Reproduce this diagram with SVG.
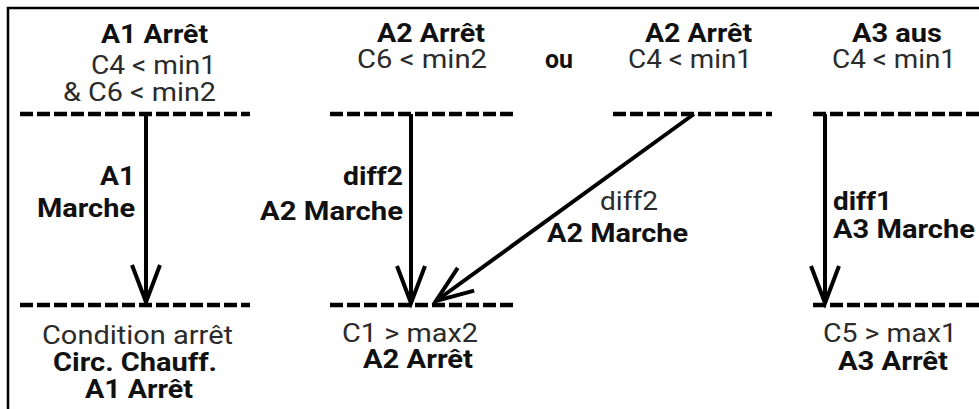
<svg xmlns="http://www.w3.org/2000/svg" width="979" height="409" viewBox="0 0 979 409">
<style>
  text { font-family: Roboto, "Liberation Sans", sans-serif; font-size: 25px; }
  .r { fill: #2b2b2b; font-weight: 400; }
  .b { fill: #111; font-weight: 700; }
  .dash { stroke: #000; stroke-width: 4.5; stroke-dasharray: 13 4; fill: none; }
  .arr { stroke: #000; stroke-width: 4; fill: none; marker-end: url(#ah); }
</style>
<defs>
  <marker id="ah" markerUnits="userSpaceOnUse" markerWidth="50" markerHeight="40" refX="40" refY="20" orient="auto" viewBox="0 0 50 40">
    <path d="M 3 6 L 40 20 L 3 34" fill="none" stroke="#000" stroke-width="4" stroke-linejoin="miter"/>
  </marker>
</defs>
<rect x="8" y="8" width="1000" height="500" fill="#fff" stroke="#000" stroke-width="2.5"/>

<g id="levels">
  <line class="dash" x1="20" y1="114" x2="250" y2="114"/>
  <line class="dash" x1="330" y1="114" x2="517" y2="114"/>
  <line class="dash" x1="613" y1="114" x2="772" y2="114"/>
  <line class="dash" x1="813" y1="114" x2="979" y2="114"/>
  <line class="dash" x1="20" y1="305" x2="250" y2="305"/>
  <line class="dash" x1="330" y1="305" x2="517" y2="305"/>
  <line class="dash" x1="813" y1="305" x2="979" y2="305"/>
</g>

<g id="connectors">
  <line class="arr" x1="146" y1="114" x2="146" y2="302"/>
  <line class="arr" x1="411" y1="114" x2="411" y2="303"/>
  <line class="arr" x1="694" y1="114" x2="436" y2="301"/>
  <line class="arr" x1="825" y1="114" x2="825" y2="303"/>
</g>

<g id="n-a1-start">
  <text class="b" x="101" y="43" textLength="107" lengthAdjust="spacingAndGlyphs">A1 Arrêt</text>
  <text class="r" x="91" y="74" textLength="125" lengthAdjust="spacingAndGlyphs">C4 &lt; min1</text>
  <text class="r" x="63" y="101" textLength="153" lengthAdjust="spacingAndGlyphs">&amp; C6 &lt; min2</text>
</g>
<g id="n-a2-start-1">
  <text class="b" x="377" y="42" textLength="108" lengthAdjust="spacingAndGlyphs">A2 Arrêt</text>
  <text class="r" x="357" y="68" textLength="130" lengthAdjust="spacingAndGlyphs">C6 &lt; min2</text>
</g>
<g id="n-ou">
  <text class="b" x="545" y="68" textLength="28" lengthAdjust="spacingAndGlyphs">ou</text>
</g>
<g id="n-a2-start-2">
  <text class="b" x="645" y="42" textLength="107" lengthAdjust="spacingAndGlyphs">A2 Arrêt</text>
  <text class="r" x="628" y="68" textLength="124" lengthAdjust="spacingAndGlyphs">C4 &lt; min1</text>
</g>
<g id="n-a3-start">
  <text class="b" x="852" y="42" textLength="90" lengthAdjust="spacingAndGlyphs">A3 aus</text>
  <text class="r" x="832" y="68" textLength="124" lengthAdjust="spacingAndGlyphs">C4 &lt; min1</text>
</g>

<g id="l-a1">
  <text class="b" x="100" y="185" textLength="35" lengthAdjust="spacingAndGlyphs">A1</text>
  <text class="b" x="37" y="217" textLength="98" lengthAdjust="spacingAndGlyphs">Marche</text>
</g>
<g id="l-a2-1">
  <text class="b" x="343" y="185" textLength="60" lengthAdjust="spacingAndGlyphs">diff2</text>
  <text class="b" x="260" y="220" textLength="143" lengthAdjust="spacingAndGlyphs">A2 Marche</text>
</g>
<g id="l-a2-2">
  <text class="r" x="600" y="210" textLength="58" lengthAdjust="spacingAndGlyphs">diff2</text>
  <text class="b" x="547" y="242" textLength="141" lengthAdjust="spacingAndGlyphs">A2 Marche</text>
</g>
<g id="l-a3">
  <text class="b" x="833" y="210" textLength="59" lengthAdjust="spacingAndGlyphs">diff1</text>
  <text class="b" x="833" y="238" textLength="142" lengthAdjust="spacingAndGlyphs">A3 Marche</text>
</g>

<g id="n-a1-stop">
  <text class="r" x="42" y="344" textLength="191" lengthAdjust="spacingAndGlyphs">Condition arrêt</text>
  <text class="b" x="53" y="371" textLength="164" lengthAdjust="spacingAndGlyphs">Circ. Chauff.</text>
  <text class="b" x="85" y="398" textLength="108" lengthAdjust="spacingAndGlyphs">A1 Arrêt</text>
</g>
<g id="n-a2-stop">
  <text class="r" x="342" y="342" textLength="136" lengthAdjust="spacingAndGlyphs">C1 &gt; max2</text>
  <text class="b" x="363" y="368" textLength="110" lengthAdjust="spacingAndGlyphs">A2 Arrêt</text>
</g>
<g id="n-a3-stop">
  <text class="r" x="823" y="342" textLength="134" lengthAdjust="spacingAndGlyphs">C5 &gt; max1</text>
  <text class="b" x="838" y="370" textLength="110" lengthAdjust="spacingAndGlyphs">A3 Arrêt</text>
</g>
</svg>
